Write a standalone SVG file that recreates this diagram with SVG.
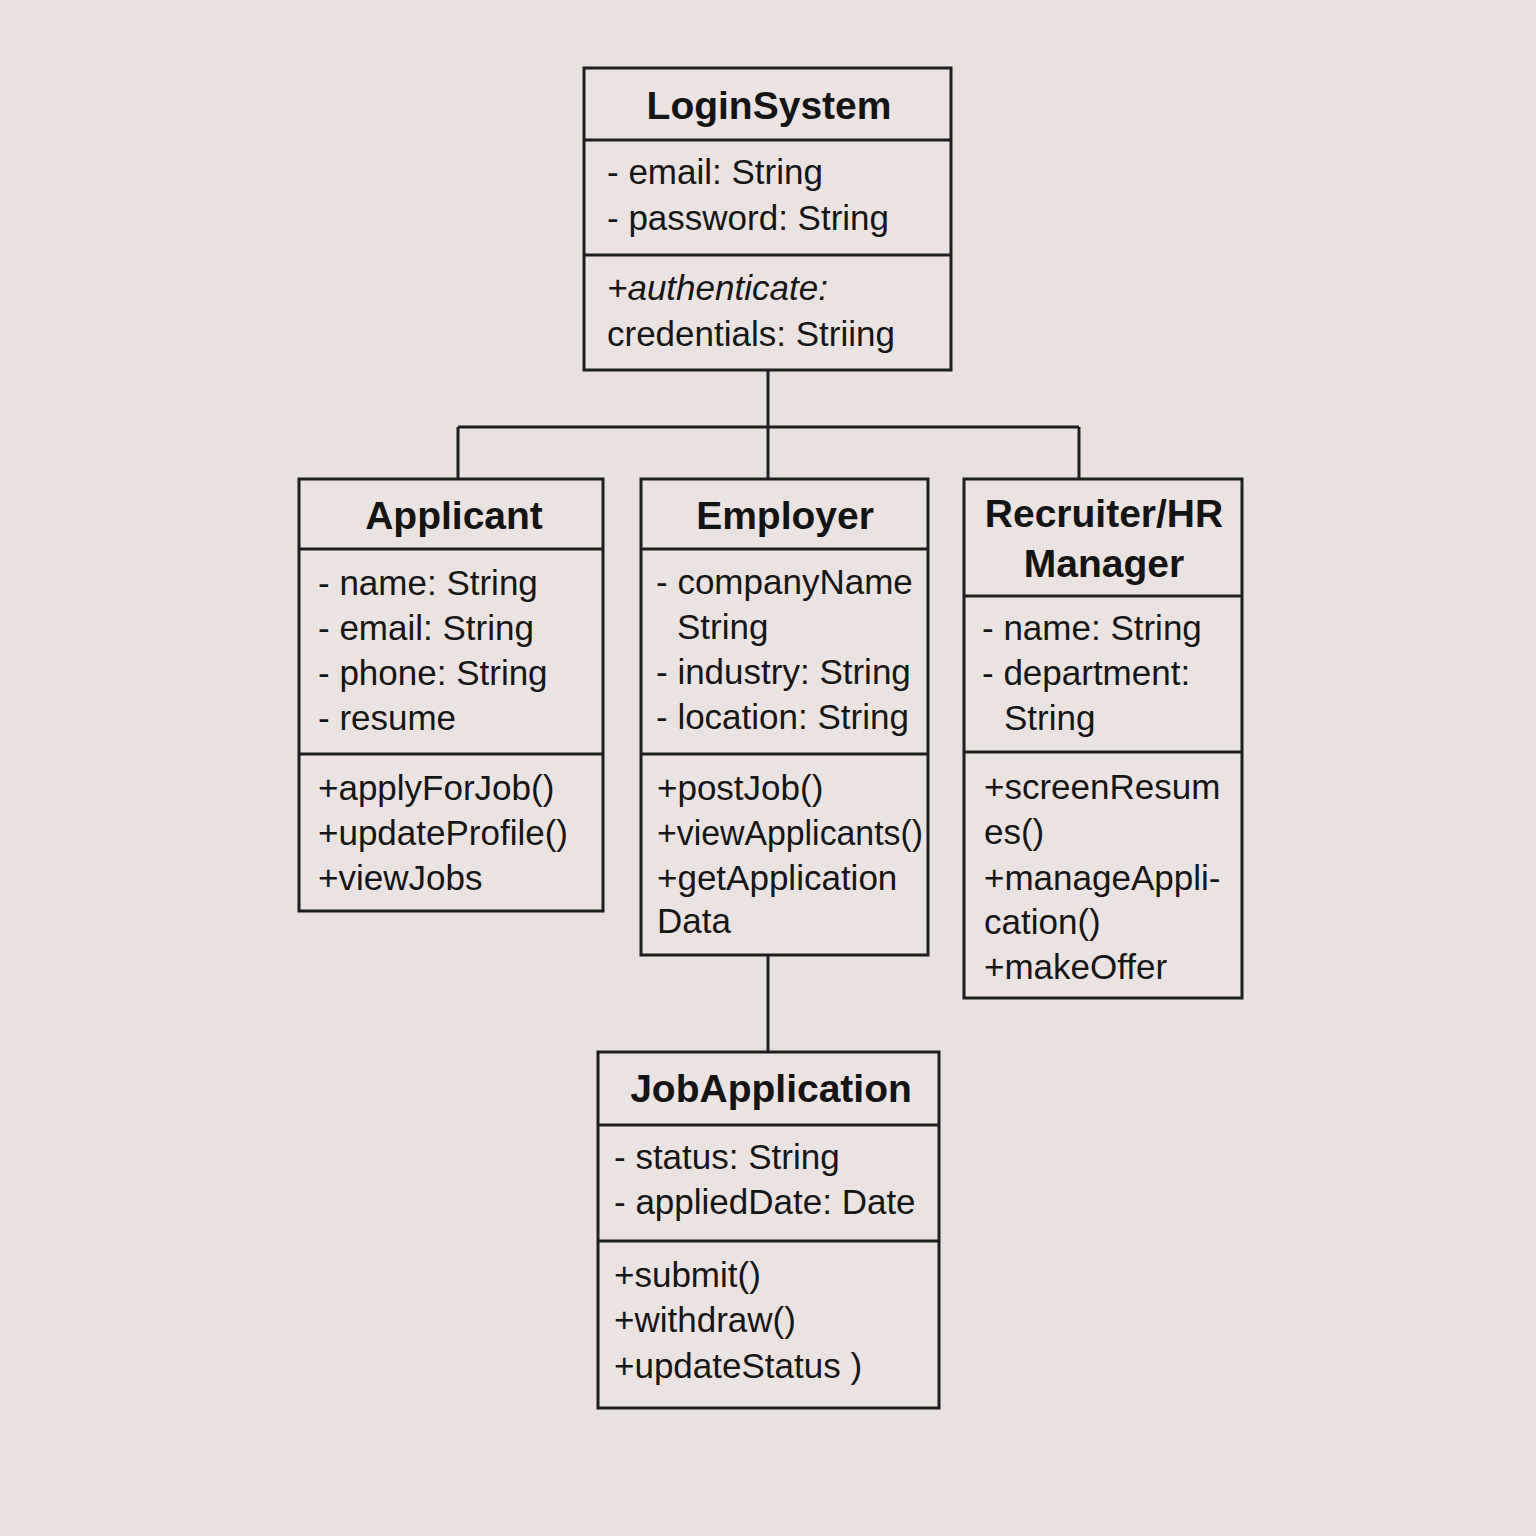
<svg xmlns="http://www.w3.org/2000/svg" width="1536" height="1536" viewBox="0 0 1536 1536">
<style>
.bg{fill:#e9e1e0}
.box{fill:#ebe3e2;stroke:#1e1e1e;stroke-width:3}
.div{stroke:#1e1e1e;stroke-width:3}
.conn{stroke:#1e1e1e;stroke-width:3;fill:none}
.t{font-family:"Liberation Sans",Arial,sans-serif;font-weight:bold;font-size:39px;fill:#141414;text-anchor:middle}
.a{font-family:"Liberation Sans",Arial,sans-serif;font-size:35px;fill:#161616}
.i{font-style:italic}
</style>
<rect class="bg" x="0" y="0" width="1536" height="1536"/>
<g id="connectors">
<path class="conn" d="M768 370 V427 M458 427 H1079 M458 427 V479 M768 427 V479 M1079 427 V479 M768 955 V1052"/>
</g>
<g id="LoginSystem">
<rect class="box" x="584" y="68" width="367" height="302"/>
<line class="div" x1="584" y1="140" x2="951" y2="140"/>
<line class="div" x1="584" y1="255" x2="951" y2="255"/>
<text class="t" x="769" y="119">LoginSystem</text>
<text class="a" x="607" y="184">- email: String</text>
<text class="a" x="607" y="230">- password: String</text>
<text class="a i" x="607" y="300">+authenticate:</text>
<text class="a" x="607" y="346">credentials: Striing</text>
</g>
<g id="Applicant">
<rect class="box" x="299" y="479" width="304" height="432"/>
<line class="div" x1="299" y1="549" x2="603" y2="549"/>
<line class="div" x1="299" y1="754" x2="603" y2="754"/>
<text class="t" x="454" y="529">Applicant</text>
<text class="a" x="318" y="595">- name: String</text>
<text class="a" x="318" y="640">- email: String</text>
<text class="a" x="318" y="685">- phone: String</text>
<text class="a" x="318" y="730">- resume</text>
<text class="a" x="318" y="800">+applyForJob()</text>
<text class="a" x="318" y="845">+updateProfile()</text>
<text class="a" x="318" y="890">+viewJobs</text>
</g>
<g id="Employer">
<rect class="box" x="641" y="479" width="287" height="476"/>
<line class="div" x1="641" y1="549" x2="928" y2="549"/>
<line class="div" x1="641" y1="754" x2="928" y2="754"/>
<text class="t" x="785" y="529">Employer</text>
<text class="a" x="656" y="594">- companyName</text>
<text class="a" x="677" y="639">String</text>
<text class="a" x="656" y="684">- industry: String</text>
<text class="a" x="656" y="729">- location: String</text>
<text class="a" x="657" y="800">+postJob()</text>
<text class="a" x="657" y="845" textLength="266" lengthAdjust="spacingAndGlyphs">+viewApplicants()</text>
<text class="a" x="657" y="890">+getApplication</text>
<text class="a" x="657" y="933">Data</text>
</g>
<g id="RecruiterHRManager">
<rect class="box" x="964" y="479" width="278" height="519"/>
<line class="div" x1="964" y1="596" x2="1242" y2="596"/>
<line class="div" x1="964" y1="752" x2="1242" y2="752"/>
<text class="t" x="1104" y="527">Recruiter/HR</text>
<text class="t" x="1104" y="577">Manager</text>
<text class="a" x="982" y="640">- name: String</text>
<text class="a" x="982" y="685">- department:</text>
<text class="a" x="1004" y="730">String</text>
<text class="a" x="984" y="799">+screenResum</text>
<text class="a" x="984" y="844">es()</text>
<text class="a" x="984" y="890">+manageAppli-</text>
<text class="a" x="984" y="934">cation()</text>
<text class="a" x="984" y="979">+makeOffer</text>
</g>
<g id="JobApplication">
<rect class="box" x="598" y="1052" width="341" height="356"/>
<line class="div" x1="598" y1="1125" x2="939" y2="1125"/>
<line class="div" x1="598" y1="1241" x2="939" y2="1241"/>
<text class="t" x="771" y="1102">JobApplication</text>
<text class="a" x="614" y="1169">- status: String</text>
<text class="a" x="614" y="1214">- appliedDate: Date</text>
<text class="a" x="614" y="1287">+submit()</text>
<text class="a" x="614" y="1332">+withdraw()</text>
<text class="a" x="614" y="1378">+updateStatus )</text>
</g>
</svg>
